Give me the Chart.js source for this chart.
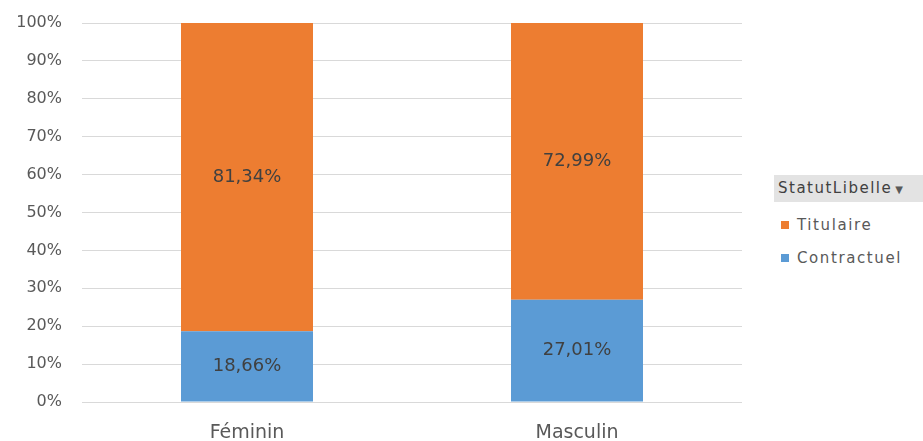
<!DOCTYPE html>
<html>
<head>
<meta charset="utf-8">
<script src="https://cdn.jsdelivr.net/npm/chart.js@4.4.0/dist/chart.umd.min.js"></script>
<style>
  body { margin: 0; background: #fff; font-family: 'DejaVu Sans', sans-serif; }
  #wrap { position: relative; width: 923px; height: 441px; }
  #box { position: absolute; left: 0; top: 0; width: 760px; height: 441px; }
  #legende { position: absolute; left: 774px; top: 175px; width: 149px; font-size: 15px; color: #595959; }
  .entete { background: #e3e3e3; color: #404040; height: 27px; line-height: 27px; padding-left: 4px; font-size: 15px; letter-spacing: 1.5px; white-space: nowrap; }
  .entete small { font-size: 10px; margin-left: 3px; color: #595959; }
  .item { margin: 13px 0 0 7px; height: 20px; display: flex; align-items: center; gap: 8px; letter-spacing: 1.6px; white-space: nowrap; }
  .item + .item { margin-top: 13px; }
  .item span.carre { width: 8px; height: 8px; display: inline-block; flex: none; }
</style>
</head>
<body>
<div id="wrap">
  <div id="box"><canvas id="grafik"></canvas></div>
  <div id="legende"></div>
</div>
<script>
const categories = ['Féminin', 'Masculin'];
const contractuel = [18.66, 27.01];
const titulaire = [81.34, 72.99];
const yTicks = [0, 10, 20, 30, 40, 50, 60, 70, 80, 90, 100];

const renkOrange = '#ED7D31';
const renkMavi = '#5B9BD5';

// legend drawn in html, Titulaire on top like the reference
const legende = document.getElementById('legende');
legende.innerHTML = '<div class="entete">StatutLibelle<small>&#9660;</small></div>';
[['Titulaire', renkOrange], ['Contractuel', renkMavi]].forEach(([ad, renk]) => {
  const d = document.createElement('div');
  d.className = 'item';
  d.innerHTML = `<span class="carre" style="background:${renk}"></span>${ad}`;
  legende.appendChild(d);
});

// value labels in the middle of each bar part
const etiketPlugin = {
  id: 'etiket',
  afterDatasetsDraw(chart) {
    const ctx = chart.ctx;
    ctx.save();
    ctx.font = '18px "DejaVu Sans"';
    ctx.fillStyle = '#404040';
    ctx.textAlign = 'center';
    ctx.textBaseline = 'middle';
    chart.data.datasets.forEach((ds, i) => {
      chart.getDatasetMeta(i).data.forEach((bar, j) => {
        const orta = (bar.y + bar.base) / 2;
        ctx.fillText(ds.data[j].toFixed(2).replace('.', ',') + '%', bar.x, orta);
      });
    });
    ctx.restore();
  }
};

const ctx = document.getElementById('grafik').getContext('2d');
new Chart(ctx, {
  type: 'bar',
  data: {
    labels: categories,
    datasets: [
      { label: 'Contractuel', data: contractuel, backgroundColor: renkMavi },
      { label: 'Titulaire', data: titulaire, backgroundColor: renkOrange }
    ]
  },
  options: {
    responsive: true,
    maintainAspectRatio: false,
    animation: false,
    layout: { padding: { top: 23, right: 18, left: 0, bottom: 0 } },
    plugins: { legend: { display: false }, tooltip: { enabled: false } },
    datasets: { bar: { categoryPercentage: 1, barPercentage: 0.4 } },
    scales: {
      x: {
        stacked: true,
        grid: { display: false },
        border: { display: false },
        ticks: { color: '#595959', font: { size: 19, family: 'DejaVu Sans' }, padding: 12 },
        afterFit(scale) { scale.height = 39; }
      },
      y: {
        stacked: true,
        min: 0,
        max: 100,
        afterBuildTicks(scale) { scale.ticks = yTicks.map(v => ({ value: v })); },
        grid: { color: '#d9d9d9', drawTicks: false },
        border: { display: false },
        ticks: {
          color: '#595959',
          font: { size: 16, family: 'DejaVu Sans' },
          padding: 20,
          callback: v => v + '%'
        },
        afterFit(scale) {
          scale.width = 82;
          scale.paddingTop = 0;
          scale.paddingBottom = 0;
        }
      }
    }
  },
  plugins: [etiketPlugin]
});
</script>
</body>
</html>
